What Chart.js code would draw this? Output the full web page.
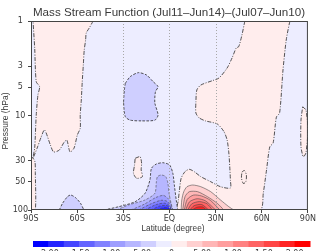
<!DOCTYPE html>
<html><head><meta charset="utf-8">
<script src="https://cdn.jsdelivr.net/npm/chart.js@4.4.0/dist/chart.umd.min.js"></script>
<style>html,body{margin:0;padding:0;background:#fff;overflow:hidden}</style>
</head><body>
<canvas id="c" width="317" height="251"></canvas>
<script>
// ---------- data ----------
const titleText = 'Mass Stream Function (Jul11\u2013Jun14)\u2013(Jul07\u2013Jun10)';
const latTicks = [-90, -60, -30, 0, 30, 60, 90];
const latLabels = ['90S', '60S', '30S', 'EQ', '30N', '60N', '90N'];
const gridLats = [-30, 0, 30];
const pressureTicks = [1, 3, 5, 10, 30, 50, 100];
const levelLabels = ['-2.00', '-1.50', '-1.00', '-5.00', '0', '5.00', '1.00', '1.50', '2.00'];

// contour regions as [latitude, pressure hPa]
const westPink = [[-49.6,1],[-52.2,1.19],[-54.1,1.34],[-54.5,1.59],[-55.4,2.03],[-56.0,2.92],[-56.7,4.42],[-57.3,6.85],[-58.0,9.88],[-58.0,13.6],[-59.9,16.1],[-62.0,22.1],[-64.6,24.3],[-66.7,18.2],[-68.4,19.1],[-71.6,23.2],[-75.3,24.3],[-77.4,20.5],[-81.2,14.2],[-83.4,16.9],[-86.0,22.1],[-88.7,28.2],[-87.6,22.1],[-86.6,9.88],[-85.5,6.07],[-84.4,4.96],[-86.6,4.39],[-87.6,1.93],[-88.7,1]];
const westEdgePink = [[-90,27.5],[-88.7,28.2],[-87.4,31],[-87.2,40],[-87.2,100],[-90,100]];
const eastPink = [[49.0,1],[47.1,1.41],[45.0,1.87],[43.4,1.93],[40.7,2.46],[37.5,3.14],[32.2,4.01],[27.9,4.28],[20.4,4.76],[17.8,5.37],[17.2,7.14],[17.2,9.41],[19.3,10.6],[23.4,11.4],[31.1,12.3],[35.4,14.8],[37.5,18.2],[38.6,24.9],[39.2,34.8],[39.6,48.2],[39.6,58.5],[33.2,56.7],[26.8,50.2],[20.4,44.4],[16.1,39.3],[12.9,37.1],[10.1,39.3],[7.6,46.2],[6.5,61.4],[5.8,78.4],[5.4,100],[58.8,100],[61.0,66.1],[63.1,37.7],[65.2,21.5],[67.4,19.5],[69.5,10.4],[71.6,9.41],[73.8,3.30],[75.9,1.59],[78.0,1.05],[78.5,1]];
const loopA = [[-22.3,28.4],[-19.1,27.3],[-18.1,32.1],[-18.4,37.7],[-17.6,44.4],[-21.3,46.2],[-23.4,40.9],[-22.7,33.4],[-22.3,28.4]];
const loopB = [[47.1,39.6],[48.7,38.2],[50.0,42.6],[49.6,50.5],[48.0,52.4],[46.8,45.9],[47.1,39.6]];
const eastEdgeLoop = [[86.6,8.07],[88.7,8.75],[90,14.2],[88.7,24.9],[87.0,27.3],[85.5,21.4],[85.5,11.2],[86.6,8.07]];
const midBlob = [[-28.7,4.56],[-25.5,3.88],[-20.2,3.52],[-14.9,3.73],[-10.6,4.39],[-7.4,4.96],[-9.1,5.60],[-9.5,7.37],[-7.4,9.88],[-9.5,11.2],[-18.1,11.4],[-25.5,11.2],[-28.7,10.3],[-29.8,7.37],[-29.3,5.37],[-28.7,4.56]];
const swBlue = [[-71.6,100],[-69.5,85.0],[-66.3,72.3],[-64.2,69.4],[-61.0,74.1],[-57.8,85.0],[-55.6,100]];
const blue1 = [[-42.6,100],[-33.0,92.3],[-22.3,81.7],[-15.9,66.6],[-12.7,48.2],[-11.7,36.2],[-8.5,32.6],[-4.2,31.6],[0.1,33.4],[2.2,40.9],[3.3,56.7],[4.4,78.4],[5.4,100]];
const blue2 = [[-34.3,100],[-26.6,88.5],[-15.9,78.4],[-9.5,66.6],[-8.5,50.2],[-7.8,44.4],[-5.3,42.6],[-2.4,44.4],[-1.0,52.2],[-0.3,66.1],[1.0,84.3],[2.2,100]];
const blue3 = [[-25.0,100],[-16.5,87.0],[-9.0,74.0],[-4.0,70.0],[-0.8,76.0],[1.2,89.0],[1.8,100]];
const blue4 = [[-20.0,100],[-12.0,86.0],[-5.5,79.0],[-1.5,81.0],[0.8,91.0],[1.4,100]];
const blue5 = [[-16.0,100],[-9.0,88.0],[-3.5,84.5],[-0.6,88.0],[1.0,100]];
const blue6 = [[-12.0,100],[-6.5,91.0],[-2.2,89.5],[0.3,93.0],[0.8,100]];
const blue7 = [[-8.5,100],[-4.5,95.0],[-1.0,94.5],[0.5,100]];
const red2 = [[7.6,100],[8.0,78.4],[9.3,64.0],[11.4,56.7],[15.1,54.4],[20.4,56.7],[26.8,64.0],[33.2,78.4],[38.6,92.3],[41.8,100]];
const red3 = [[8.6,100],[10.1,72.3],[12.9,64.0],[18.3,64.0],[24.7,72.3],[31.1,85.0],[35.4,100]];
const red4 = [[9.6,100],[11.6,77.0],[15.7,69.5],[20.8,71.0],[26.6,79.0],[32.8,100]];
const red5 = [[10.5,100],[13.0,82.0],[18.0,76.0],[23.4,80.0],[30.0,100]];
const red6 = [[11.8,100],[14.5,86.0],[19.5,81.5],[24.5,86.0],[28.0,100]];
const red7 = [[13.2,100],[16.0,90.0],[21.0,87.5],[25.5,100]];
const red8 = [[14.8,100],[17.8,93.5],[21.8,93.0],[24.0,100]];

// layer order bottom -> top, with contour level index (0..17, 8/9 straddle zero)
const regionList = [westPink, westEdgePink, eastPink, loopA, loopB, eastEdgeLoop, midBlob, swBlue,
  blue1, blue2, blue3, blue4, blue5, blue6, blue7, red2, red3, red4, red5, red6, red7, red8];
const regionLevels = [9, 9, 9, 9, 9, 9, 7, 7, 7, 6, 5, 4, 3, 2, 1, 10, 11, 12, 13, 14, 15, 16];

// ---------- styles ----------
const levelColors = ['#0000ff','#2323ff','#4646ff','#6464ff','#8282ff','#9e9eff','#b6b6ff','#cfcfff','#ededff',
                     '#ffeded','#ffd0d0','#ffb6b6','#ff9e9e','#ff8282','#ff6464','#ff4646','#ff2323','#ff0000'];
const BG_LEVEL = 8;
const textColor = '#3a3a3a';

const datasets = regionList.map((pts, i) => {
  const lv = regionLevels[i];
  let dash = [];
  if (lv === 9) dash = [4, 1.5, 1, 1.5];
  else if (lv < 9) dash = [2.5, 1.5];
  const inner = lv <= 6 || lv >= 10;
  return {
    data: pts.map(([x, y]) => ({x, y})),
    showLine: true,
    fill: 'shape',
    backgroundColor: levelColors[lv],
    borderColor: inner ? '#404040' : '#2a2a2a',
    borderWidth: inner ? 0.55 : 0.8,
    borderDash: dash,
    pointRadius: 0,
    tension: 0.25,
    order: 100 - i
  };
});

function fitFont(ctx, text, width, family) {
  ctx.font = '10px ' + family;
  return 10 * width / ctx.measureText(text).width;
}

const decor = {
  id: 'decor',
  beforeDatasetsDraw(chart) {
    const {ctx, chartArea: a} = chart;
    ctx.save();
    ctx.fillStyle = levelColors[BG_LEVEL];
    ctx.fillRect(a.left, a.top, a.right - a.left, a.bottom - a.top);
    ctx.restore();
  },
  afterDatasetsDraw(chart) {
    const {ctx, chartArea: a} = chart;
    const xs = chart.scales.x;
    ctx.save();
    ctx.strokeStyle = '#a8a8a8';
    ctx.lineWidth = 1;
    ctx.setLineDash([1, 2]);
    gridLats.forEach(v => {
      const x = Math.round(xs.getPixelForValue(v)) + 0.5;
      ctx.beginPath(); ctx.moveTo(x, a.top); ctx.lineTo(x, a.bottom); ctx.stroke();
    });
    ctx.restore();
  },
  afterDraw(chart) {
    const {ctx, chartArea: a} = chart;
    ctx.save();
    // frame
    ctx.strokeStyle = '#444';
    ctx.lineWidth = 1;
    ctx.strokeRect(a.left + 0.5, a.top + 0.5, a.right - a.left - 1, a.bottom - a.top - 1);
    // title
    ctx.fillStyle = textColor;
    let fs = fitFont(ctx, titleText, 272, '"Liberation Sans", Arial, sans-serif');
    ctx.font = fs.toFixed(2) + 'px "Liberation Sans", Arial, sans-serif';
    ctx.textAlign = 'center'; ctx.textBaseline = 'middle';
    ctx.fillText(titleText, 169, 13);
    // x title
    const xt = 'Latitude (degree)';
    fs = fitFont(ctx, xt, 63, '"Liberation Sans", Arial, sans-serif');
    ctx.font = fs.toFixed(2) + 'px "Liberation Sans", Arial, sans-serif';
    ctx.fillText(xt, 173, 229);
    // y title
    const yt = 'Pressure (hPa)';
    fs = fitFont(ctx, yt, 57, '"Liberation Sans", Arial, sans-serif');
    ctx.font = fs.toFixed(2) + 'px "Liberation Sans", Arial, sans-serif';
    ctx.save();
    ctx.translate(6, 121);
    ctx.rotate(-Math.PI / 2);
    ctx.fillText(yt, 0, 0);
    ctx.restore();
    // colour bar
    const x0 = 33, x1 = 310, y0 = 241, h = 6;
    const bw = (x1 - x0) / levelColors.length;
    levelColors.forEach((c, i) => {
      ctx.fillStyle = c;
      ctx.fillRect(x0 + i * bw, y0, bw + 0.5, h);
    });
    ctx.fillStyle = textColor;
    ctx.font = '8px "DejaVu Sans", sans-serif';
    ctx.textBaseline = 'top';
    levelLabels.forEach((t, k) => {
      ctx.fillText(t, x0 + bw * (2 * k + 1), 249.5);
    });
    ctx.restore();
  }
};

new Chart(document.getElementById('c'), {
  type: 'scatter',
  data: {datasets},
  options: {
    responsive: false,
    animation: false,
    devicePixelRatio: 1,
    layout: {padding: {top: 21, right: 5, left: 0, bottom: 0}},
    plugins: {legend: {display: false}, tooltip: {enabled: false}, title: {display: false}},
    scales: {
      x: {
        type: 'linear', min: -90, max: 90,
        afterBuildTicks: s => { s.ticks = latTicks.map(v => ({value: v})); },
        afterFit: s => { s.height = 41; },
        ticks: {
          callback: v => latLabels[latTicks.indexOf(v)],
          font: {family: '"DejaVu Sans", sans-serif', size: 8},
          color: textColor, padding: 1, maxRotation: 0, autoSkip: false
        },
        grid: {drawOnChartArea: false, drawTicks: true, tickLength: 3, tickColor: '#444'},
        border: {display: false}
      },
      y: {
        type: 'logarithmic', reverse: true, min: 1, max: 100,
        afterBuildTicks: s => { s.ticks = pressureTicks.map(v => ({value: v})); },
        afterFit: s => { s.width = 31; },
        ticks: {
          callback: v => String(v),
          font: {family: '"DejaVu Sans", sans-serif', size: 8},
          color: textColor, padding: 0, crossAlign: 'center', autoSkip: false
        },
        grid: {drawOnChartArea: false, drawTicks: true, tickLength: 3, tickColor: '#444'},
        border: {display: false}
      }
    }
  },
  plugins: [decor]
});
</script>
</body></html>
